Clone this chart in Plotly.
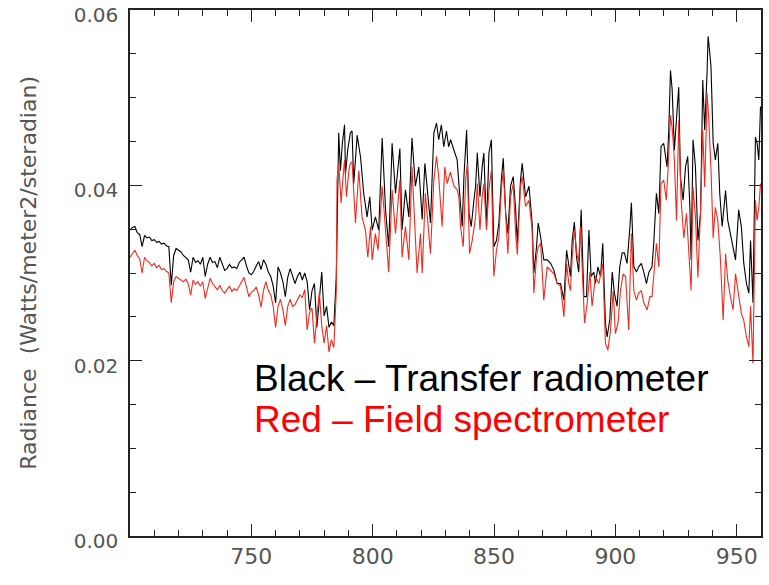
import plotly.graph_objects as go

# ---- data ----
black_wl = [700,701,702,703,704,705,706,707,708,709,710,711,712,713,714,715,716,717,718,719,
            720,721,722,723,724,725,726,727,728,729,730,731,732,733,734,735,736,737,738,739,
            740,741,742,743,744,745,746,747,748,749,750,751,752,753,754,755,756,757,758,759,
            760,761,762,763,764,765,766,767,768,769,770,771,772,773,774,775,776,777,778,779,
            780,781,782,783,784,785,
            786.0,786.7,787.5,788.4,788.8,789.7,790.8,791.5,792.2,793.6,795.0,796.3,797.7,798.8,799.8,
            801.1,802.5,803.9,805.3,806.6,808.0,809.4,811.2,812.1,813.5,814.9,816.2,817.6,819.0,820.4,
            821.5,823.1,823.8,825.2,826.3,827.2,828.3,829.3,830.4,831.3,832.1,833.5,834.8,835.5,836.9,
            837.6,838.3,838.7,839.7,840.6,841.7,842.4,843.1,844.2,845.1,845.8,846.9,847.9,848.9,849.9,
            851.0,852.0,853.0,853.8,854.8,855.7,856.8,857.9,858.9,859.6,860.9,861.6,863.0,864.4,865.7,
            866.4,867.5,868.2,869.2,870.5,871.9,873.3,874.7,876.0,877.4,878.8,879.9,880.8,881.5,882.2,
            883.1,884.0,884.9,885.9,887.0,888.1,889.1,890.0,891.1,891.8,892.8,893.9,894.8,895.9,896.6,
            897.7,898.7,899.6,900.7,901.8,902.8,903.7,904.8,905.9,906.6,907.6,908.7,909.6,910.7,911.7,
            912.8,913.8,915.1,915.8,916.9,917.9,918.8,919.9,921.3,922.0,922.7,923.4,924.3,925.2,926.1,
            926.8,927.9,928.9,929.8,930.7,931.2,932.0,933.0,934.0,935.1,936.0,936.8,937.8,938.2,938.9,
            939.4,940.3,941.2,942.2,943.0,944.0,945.4,946.3,947.4,948.5,949.5,950.8,951.9,952.9,954.0,
            955.0,955.7,956.7,957.7,958.4,959.1,959.8]
black_rad = [0.0349,0.0352,0.0353,0.0346,0.0344,0.0330,0.0343,0.0340,0.0341,0.0337,0.0338,0.0335,0.0336,0.0333,0.0334,0.0331,0.0330,0.0286,0.0320,0.0328,
             0.0326,0.0324,0.0320,0.0318,0.0315,0.0301,0.0318,0.0312,0.0314,0.0310,0.0318,0.0296,0.0310,0.0318,0.0312,0.0313,0.0306,0.0318,0.0310,0.0303,
             0.0305,0.0310,0.0306,0.0307,0.0305,0.0312,0.0315,0.0318,0.0308,0.0300,0.0298,0.0302,0.0308,0.0313,0.0304,0.0315,0.0310,0.0301,0.0296,0.0285,
             0.0266,0.0307,0.0300,0.0290,0.0273,0.0295,0.0305,0.0296,0.0288,0.0296,0.0301,0.0292,0.0300,0.0290,0.0258,0.0280,0.0288,0.0238,0.0270,0.0301,
             0.0251,0.0262,0.0238,0.0244,0.0240,0.0296,
             0.0460,0.0417,0.0448,0.0469,0.0413,0.0440,0.0460,0.0462,0.0402,0.0457,0.0432,0.0391,0.0364,0.0387,0.0349,
             0.0364,0.0349,0.0454,0.0372,0.0330,0.0448,0.0391,0.0442,0.0349,0.0395,0.0364,0.0454,0.0399,0.0421,0.0361,
             0.0425,0.0383,0.0357,0.0460,0.0471,0.0452,0.0469,0.0444,0.0462,0.0444,0.0452,0.0440,0.0429,0.0402,0.0353,
             0.0410,0.0448,0.0463,0.0368,0.0353,0.0383,0.0399,0.0437,0.0387,0.0421,0.0437,0.0353,0.0437,0.0452,0.0330,
             0.0337,0.0357,0.0406,0.0431,0.0368,0.0345,0.0399,0.0410,0.0372,0.0334,0.0406,0.0425,0.0387,0.0399,0.0357,
             0.0300,0.0330,0.0357,0.0341,0.0315,0.0315,0.0311,0.0303,0.0288,0.0288,0.0269,0.0326,0.0311,0.0296,0.0337,
             0.0358,0.0318,0.0301,0.0372,0.0273,0.0273,0.0349,0.0296,0.0301,0.0288,0.0307,0.0296,0.0334,0.0243,0.0227,
             0.0247,0.0301,0.0277,0.0262,0.0307,0.0323,0.0323,0.0311,0.0349,0.0380,0.0307,0.0301,0.0307,0.0311,0.0301,
             0.0288,0.0301,0.0307,0.0334,0.0391,0.0368,0.0444,0.0448,0.0421,0.0463,0.0531,0.0509,0.0440,0.0477,0.0512,
             0.0410,0.0383,0.0421,0.0433,0.0375,0.0315,0.0452,0.0421,0.0337,0.0368,0.0520,0.0463,0.0531,0.0570,0.0551,
             0.0535,0.0448,0.0429,0.0448,0.0391,0.0353,0.0394,0.0360,0.0345,0.0326,0.0315,0.0372,0.0353,0.0311,0.0288,
             0.0277,0.0337,0.0266,0.0455,0.0448,0.0429,0.0490]

red_wl = [700,701,702,703,704,705,706,707,708,709,710,711,712,713,714,715,716,717,718,719,
          720,721,722,723,724,725,726,727,728,729,730,731,732,733,734,735,736,737,738,739,
          740,741,742,743,744,745,746,747,748,749,750,751,752,753,754,755,756,757,758,759,
          760,761,762,763,764,765,766,767,768,769,770,771,772,773,774,775,776,777,778,779,
          780,781,782,783,784,785,
          785.3,786.0,787.0,787.8,788.4,789.2,790.2,790.8,791.5,792.9,794.3,795.6,797.0,798.0,799.1,
          799.8,801.1,802.2,803.9,805.3,806.6,808.0,809.4,811.2,812.1,813.5,814.9,816.2,817.6,818.3,
          819.7,820.4,821.7,823.8,825.2,826.3,827.2,828.6,829.7,830.7,832.0,833.5,834.8,835.5,836.2,
          837.3,838.3,839.0,839.9,841.0,842.4,843.1,844.2,845.1,845.8,846.9,847.9,848.9,849.9,851.0,
          852.0,853.0,853.8,854.8,855.7,856.8,857.9,858.9,859.6,860.9,861.6,863.0,864.4,865.7,866.4,
          867.5,868.2,869.2,870.5,871.9,873.3,874.7,876.0,877.4,878.8,879.9,880.8,881.5,882.2,883.1,
          884.2,884.9,885.6,887.3,888.4,889.5,890.4,891.8,893.2,894.8,895.9,896.9,898.0,899.1,900.0,
          901.1,902.1,903.2,904.2,905.5,906.6,907.6,908.7,909.6,910.7,911.7,913.1,914.2,915.1,916.1,
          916.9,917.9,918.8,919.9,921.0,921.6,922.7,923.5,924.3,925.2,926.1,927.1,928.2,929.3,930.3,
          931.2,932.0,933.0,934.0,935.1,936.0,936.8,937.8,938.5,939.4,940.3,941.2,942.2,943.3,944.4,
          945.4,946.3,947.4,948.5,949.5,950.8,951.9,952.9,954.0,955.0,955.7,956.7,957.7,958.4,959.1,
          959.8]
red_rad = [0.0318,0.0322,0.0326,0.0320,0.0316,0.0300,0.0318,0.0314,0.0312,0.0308,0.0311,0.0306,0.0309,0.0304,0.0305,0.0302,0.0300,0.0266,0.0290,0.0296,
           0.0294,0.0292,0.0290,0.0293,0.0288,0.0275,0.0292,0.0287,0.0290,0.0285,0.0290,0.0271,0.0284,0.0294,0.0288,0.0285,0.0281,0.0286,0.0280,0.0277,
           0.0281,0.0285,0.0279,0.0282,0.0280,0.0286,0.0290,0.0295,0.0282,0.0273,0.0278,0.0280,0.0284,0.0275,0.0261,0.0280,0.0290,0.0280,0.0275,0.0262,
           0.0238,0.0262,0.0270,0.0258,0.0240,0.0262,0.0270,0.0262,0.0264,0.0270,0.0275,0.0272,0.0281,0.0235,0.0255,0.0260,0.0220,0.0250,0.0278,0.0240,
           0.0220,0.0240,0.0210,0.0224,0.0215,0.0280,
           0.0406,0.0425,0.0380,0.0410,0.0429,0.0387,0.0417,0.0425,0.0427,0.0357,0.0417,0.0364,0.0349,0.0318,0.0353,
           0.0315,0.0345,0.0326,0.0399,0.0349,0.0301,0.0395,0.0345,0.0406,0.0318,0.0353,0.0315,0.0421,0.0330,0.0300,
           0.0345,0.0300,0.0391,0.0322,0.0406,0.0433,0.0410,0.0353,0.0421,0.0402,0.0415,0.0399,0.0395,0.0387,0.0353,
           0.0330,0.0406,0.0425,0.0322,0.0337,0.0364,0.0402,0.0349,0.0387,0.0402,0.0349,0.0395,0.0417,0.0296,0.0326,
           0.0341,0.0395,0.0417,0.0364,0.0322,0.0387,0.0402,0.0345,0.0321,0.0399,0.0410,0.0376,0.0383,0.0349,0.0277,
           0.0318,0.0330,0.0334,0.0269,0.0307,0.0303,0.0299,0.0288,0.0285,0.0250,0.0311,0.0288,0.0280,0.0318,0.0349,
           0.0320,0.0314,0.0353,0.0243,0.0266,0.0301,0.0262,0.0296,0.0288,0.0311,0.0220,0.0212,0.0235,0.0280,0.0231,
           0.0243,0.0280,0.0299,0.0296,0.0235,0.0345,0.0280,0.0269,0.0277,0.0280,0.0266,0.0258,0.0273,0.0273,0.0307,
           0.0334,0.0307,0.0402,0.0406,0.0383,0.0413,0.0480,0.0463,0.0429,0.0360,0.0474,0.0383,0.0340,0.0368,0.0322,
           0.0280,0.0398,0.0364,0.0295,0.0372,0.0463,0.0398,0.0505,0.0474,0.0417,0.0340,0.0375,0.0360,0.0315,0.0246,
           0.0322,0.0292,0.0273,0.0258,0.0299,0.0277,0.0254,0.0246,0.0227,0.0216,0.0262,0.0197,0.0383,0.0360,0.0375,
           0.0402]

x_ticks = [750, 800, 850, 900, 950]
y_ticks = [0.00, 0.02, 0.04, 0.06]
y_title = "Radiance  (Watts/meter2/steradian)"
label_black = "Black \u2013 Transfer radiometer"
label_red = "Red \u2013 Field spectrometer"

fig = go.Figure()
fig.add_trace(go.Scatter(x=black_wl, y=black_rad, mode="lines",
                         line=dict(color="black", width=1.1), showlegend=False))
fig.add_trace(go.Scatter(x=red_wl, y=red_rad, mode="lines",
                         line=dict(color="#f02a1e", width=1.1), showlegend=False))

x_font = dict(family="DejaVu Sans", size=22, color="#555555")
y_font = dict(family="DejaVu Sans", size=20, color="#555555")

fig.update_xaxes(range=[700, 960], tickmode="array", tickvals=x_ticks,
                 ticktext=[str(v) for v in x_ticks], automargin=False,
                 ticklabeloverflow="allow",
                 ticks="inside", ticklen=12, tickwidth=1.3, tickcolor="#222",
                 showline=True, linecolor="#222", linewidth=1.5, mirror="allticks",
                 showgrid=False, zeroline=False, tickfont=x_font,
                 minor=dict(tickmode="linear", tick0=700, dtick=10, ticks="inside",
                            ticklen=6, tickwidth=1.3, tickcolor="#222", showgrid=False))
fig.update_yaxes(range=[0, 0.0600001], tickmode="array", tickvals=y_ticks,
                 ticktext=["%.2f" % v for v in y_ticks], automargin=False,
                 ticklabeloverflow="allow", ticklabelshift=5, ticklabelstandoff=6,
                 ticks="inside", ticklen=12, tickwidth=1.3, tickcolor="#222",
                 showline=True, linecolor="#222", linewidth=1.5, mirror="allticks",
                 showgrid=False, zeroline=False, tickfont=y_font,
                 minor=dict(tickmode="linear", tick0=0, dtick=0.005, ticks="inside",
                            ticklen=6, tickwidth=1.3, tickcolor="#222", showgrid=False))

fig.add_annotation(text=y_title, xref="paper", yref="paper", x=-0.162, y=0.5,
                   textangle=-90, showarrow=False, xanchor="center", yanchor="middle",
                   font=dict(family="DejaVu Sans", size=22, color="#555555"))
fig.add_annotation(text=label_black, xref="paper", yref="paper", x=0.193, y=0.300,
                   showarrow=False, xanchor="left", yanchor="middle",
                   font=dict(family="Liberation Sans", size=37, color="black"))
fig.add_annotation(text=label_red, xref="paper", yref="paper", x=0.193, y=0.222,
                   showarrow=False, xanchor="left", yanchor="middle",
                   font=dict(family="Liberation Sans", size=37, color="#ff0000"))

fig.update_layout(width=769, height=585, paper_bgcolor="white", plot_bgcolor="white",
                  margin=dict(l=130, r=8, t=10, b=49), showlegend=False)

fig.write_html("out.html", config={"displayModeBar": False},
               post_script="document.body.style.margin='0';document.body.style.overflow='hidden';")
